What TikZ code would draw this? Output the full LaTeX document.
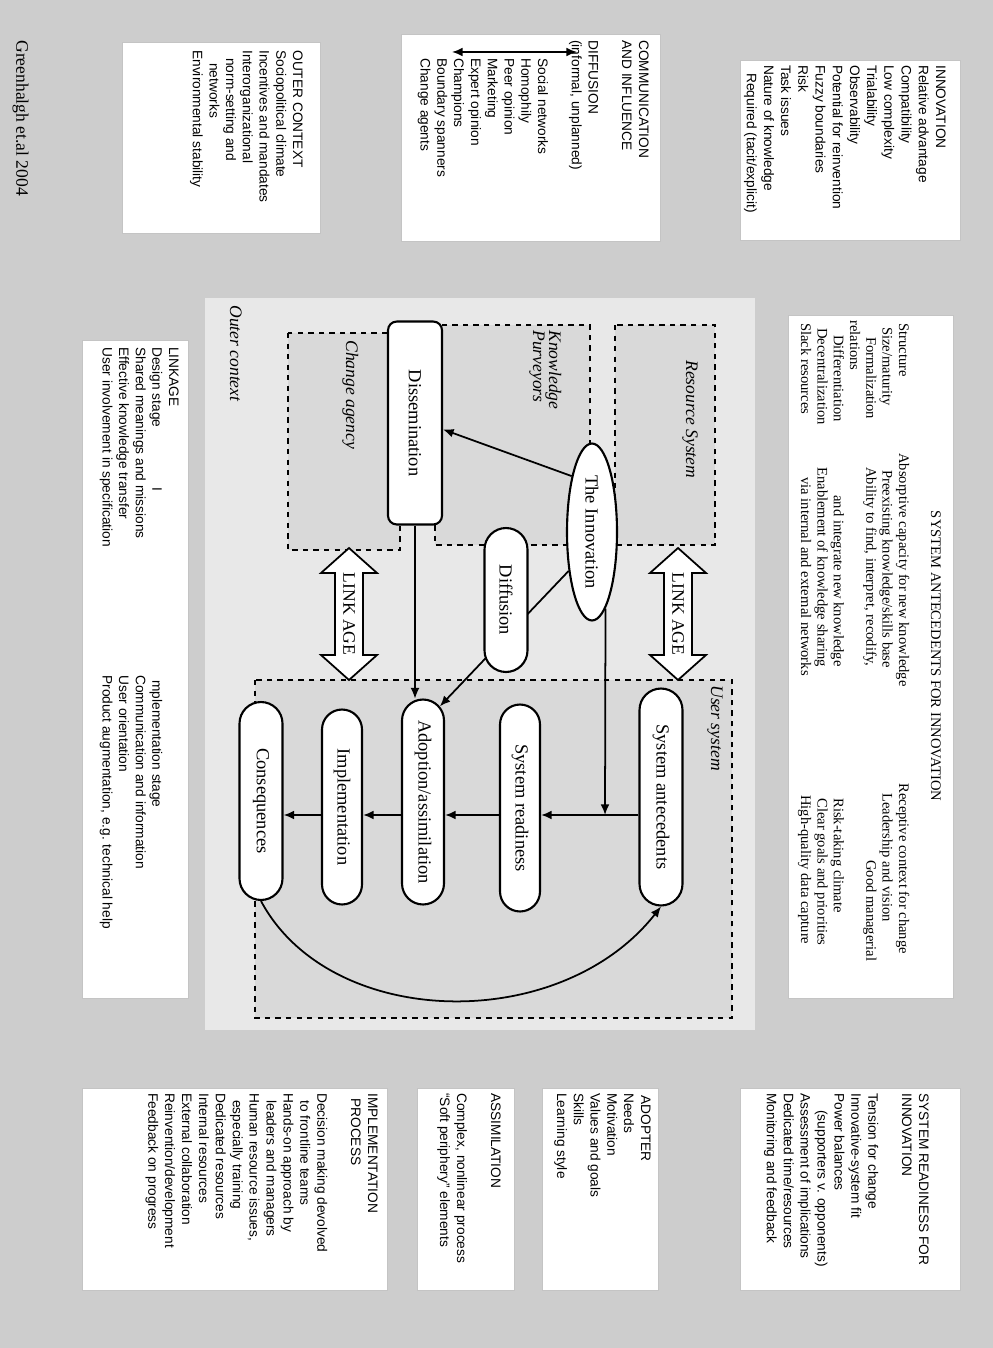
\documentclass[tikz,border=0pt]{standalone}
\usepackage{fontspec}
\setmainfont{Liberation Serif}
\newfontfamily\sansf{Liberation Sans}
\usetikzlibrary{shapes.geometric,shapes.misc,arrows.meta}

\definecolor{pagebg}{HTML}{CDCDCD}
\definecolor{panel}{HTML}{E8E8E8}
\definecolor{zone}{HTML}{D9D9D9}
\definecolor{boxline}{HTML}{C4C4C4}

% one rotated text line per entry: name, first baseline x, step, style, list of y/text
\newcommand\linesat[5]{%
  \foreach \yy/\lt [count=\i] in {#5}{%
    \node[#4] (#1-\i) at ({#2-(\i-1)*#3},\yy) {\lt};
  }}

\begin{document}
\begin{tikzpicture}[x=0.02cm,y=-0.02cm,
  infobox/.style={fill=white,draw=boxline,line width=0.4pt},
  sanstext/.style={font=\sansf\fontsize{7.8}{9.5}\selectfont,rotate=-90,inner sep=0pt,anchor=base west},
  seriftext/.style={font=\fontsize{8.3}{9.5}\selectfont,rotate=-90,inner sep=0pt,anchor=base west},
  zonebox/.style={fill=zone,draw=black,dashed,line width=0.7pt},
  zonelabel/.style={font=\itshape\fontsize{10}{12}\selectfont,rotate=-90,inner sep=0pt,anchor=base west},
  pill/.style={rounded rectangle,draw,fill=white,line width=1.2pt,rotate=-90,
    font=\fontsize{10.5}{12}\selectfont,inner sep=0pt},
  arr/.style={-{Latex[length=6pt,width=5pt]},line width=1pt},
  linkarrow/.style={fill=white,draw=black,line width=1pt,line join=miter},
  linktext/.style={font=\fontsize{10}{12}\selectfont,rotate=-90,inner sep=0pt},
]
% page background
\fill[pagebg] (0,0) rectangle (993,1348);

% ---------- information boxes ----------
\filldraw[infobox] (740,60) rectangle (960,240);
\linesat{innov}{936}{17.2}{sanstext}{65/{INNOVATION},65/{Relative advantage},65/{Compatibility},
  65/{Low complexity},65/{Trialability},65/{Observability},65/{Potential for reinvention},
  65/{Fuzzy boundaries},65/{Risk},65/{Task issues},65/{Nature of knowledge},73/{Required (tacit/explicit)}}

\filldraw[infobox] (401,34) rectangle (660,241);
\linesat{comm}{639}{16.8}{sanstext}{40/{COMMUNICATION},40/{AND INFLUENCE},40/{},40/{DIFFUSION},
  40/{(informal, unplanned)},40/{},58/{Social networks},58/{Homophily},58/{Peer opinion},
  58/{Marketing},58/{Expert opinion},58/{Champions},58/{Boundary spanners},58/{Change agents}}
\coordinate (diffusiontop) at (577,52);
\coordinate (diffusionbot) at (452,52);
\draw[{Latex[length=6pt,width=5pt]}-{Latex[length=6pt,width=5pt]},line width=1pt] (diffusionbot) -- (diffusiontop);

\filldraw[infobox] (122,42) rectangle (320,233);
\linesat{outer}{293}{16.7}{sanstext}{50/{OUTER CONTEXT},50/{Sociopolitical climate},
  50/{Incentives and mandates},50/{Interorganizational},58/{norm-setting and},63/{networks},
  50/{Environmental stability}}

\filldraw[infobox] (788,315) rectangle (953,998);
\node[seriftext,anchor=base] (ante-head) at (931,656) {SYSTEM ANTECEDENTS FOR INNOVATION};
\linesat{antea}{899}{16.3}{seriftext}{323/{Structure},327/{Size/maturity},337/{Formalization},
  320/{relations},335/{Differentiation},328/{Decentralization},323/{Slack resources}}
\linesat{anteb}{899}{16.3}{seriftext}{453/{Absorptive capacity for new knowledge},
  470/{Preexisting knowledge/skills base},467/{Ability to find, interpret, recodify,},0/{},
  495/{and integrate new knowledge},467/{Enablement of knowledge sharing},
  477/{via internal and external networks}}
\linesat{antec}{899}{16.3}{seriftext}{783/{Receptive context for change},793/{Leadership and vision},
  860/{Good managerial},0/{},798/{Risk-taking climate},798/{Clear goals and priorities},
  795/{High-quality data capture}}

\filldraw[infobox] (82,340) rectangle (188,998);
\linesat{linka}{169}{16.6}{sanstext}{347/{LINKAGE},347/{Design stage},347/{Shared meanings and missions},
  347/{Effective knowledge transfer},347/{User involvement in specification}}
\node[sanstext] (link-i) at (152.4,487) {I};
\linesat{linkb}{152.4}{16.6}{sanstext}{680/{mplementation stage},675/{Communication and information},
  675/{User orientation},675/{Product augmentation, e.g. technical help}}

\filldraw[infobox] (740,1088) rectangle (960,1290);
\linesat{ready}{919}{16.9}{sanstext}{1093/{SYSTEM READINESS FOR},1093/{INNOVATION},1093/{},
  1093/{Tension for change},1093/{Innovative-system fit},1093/{Power balances},
  1110/{(supporters v. opponents)},1093/{Assessment of implications},
  1093/{Dedicated time/resources},1093/{Monitoring and feedback}}

\filldraw[infobox] (542,1088) rectangle (658,1290);
\linesat{adopter}{641}{16.8}{sanstext}{1095/{ADOPTER},1093/{Needs},1093/{Motivation},
  1093/{Values and goals},1093/{Skills},1093/{Learning style}}

\filldraw[infobox] (417,1088) rectangle (514,1290);
\linesat{assim}{491}{17}{sanstext}{1093/{ASSIMILATION},1093/{},1093/{Complex, nonlinear process},
  1093/{“Soft periphery” elements}}

\filldraw[infobox] (82,1088) rectangle (387,1290);
\linesat{impl}{368}{16.9}{sanstext}{1093/{IMPLEMENTATION},1098/{PROCESS},1093/{},
  1093/{Decision making devolved},1100/{to frontline teams},1093/{Hands-on approach by},
  1100/{leaders and managers},1093/{Human resource issues,},1100/{especially training},
  1093/{Dedicated resources},1093/{Internal resources},1093/{External collaboration},
  1093/{Reinvention/development},1093/{Feedback on progress}}

\node[font=\fontsize{10}{12}\selectfont,rotate=-90,inner sep=0pt,anchor=base west] (cite) at (16.5,40) {Greenhalgh et.al 2004};

% ---------- central model ----------
\fill[panel] (205,298) rectangle (755,1030);
\node[zonelabel] (outerlbl) at (230,305) {Outer context};

\filldraw[zonebox] (615,325) rectangle (715,545);
\node[zonelabel] (reslbl) at (686,360) {Resource System};
\filldraw[zonebox] (435,325) rectangle (590,545);
\node[zonelabel] (kplbl1) at (549,330) {Knowledge};
\node[zonelabel] (kplbl2) at (533,330) {Purveyors};
\filldraw[zonebox] (288,333) rectangle (400,550);
\node[zonelabel] (calbl) at (346,340) {Change agency};
\filldraw[zonebox] (255,680) rectangle (732,1018);
\node[zonelabel] (uslbl) at (711,685) {User system};

% linkage double arrows
\filldraw[linkarrow] (678,548) -- (706,573) -- (692,573) -- (692,655) -- (706,655) -- (678,680)
  -- (650,655) -- (664,655) -- (664,573) -- (650,573) -- cycle;
\node[linktext] (linkup) at (678,614) {LINK AGE};
\filldraw[linkarrow] (349,548) -- (377,573) -- (363,573) -- (363,655) -- (377,655) -- (349,680)
  -- (321,655) -- (335,655) -- (335,573) -- (321,573) -- cycle;
\node[linktext] (linkdown) at (349,614) {LINK AGE};

% process nodes
\node[ellipse,draw,fill=white,line width=1.2pt,rotate=-90,inner sep=0pt,
  minimum width=3.54cm,minimum height=1.0cm,font=\fontsize{10.5}{12}\selectfont] (inn) at (592,532) {The Innovation};
\node[rectangle,rounded corners=5pt,draw,fill=white,line width=1.2pt,rotate=-90,inner sep=0pt,
  minimum width=4.06cm,minimum height=1.08cm,font=\fontsize{10.5}{12}\selectfont] (diss) at (415,423) {Dissemination};
\node[pill,minimum width=4.34cm,minimum height=0.86cm] (sa) at (661,797) {System antecedents};
\node[pill,minimum width=4.14cm,minimum height=0.80cm] (sr) at (520,808) {System readiness};
\node[pill,minimum width=4.10cm,minimum height=0.84cm] (adopt) at (423,802) {Adoption/assimilation};
\node[pill,minimum width=3.90cm,minimum height=0.80cm] (impl) at (342,807) {Implementation};
\node[pill,minimum width=3.96cm,minimum height=0.86cm] (cons) at (261,801) {Consequences};

% connectors
\coordinate (junc) at (605,815);
\draw[arr] (inn.200) -- (diss.77);
\draw[arr] (inn.329) -- (adopt.170);
\draw[-{Latex[length=6pt,width=5pt]},line width=0.6pt] (diss.east) -- (diss.east |- adopt.west);
\draw[arr] (inn.10) -- (junc);
\draw[arr] (sa.south |- junc) -- (sr.north |- junc);
\draw[arr] (sr.south |- junc) -- (adopt.north |- junc);
\draw[arr] (adopt.south |- junc) -- (impl.north |- junc);
\draw[arr] (impl.south |- junc) -- (cons.north |- junc);
\draw[arr] (cons.east) .. controls (330,1030) and (560,1035) .. (sa.east);

% diffusion sits on top of the innovation-to-adoption path
\node[pill,minimum width=2.88cm,minimum height=0.86cm] (diff) at (506,600) {Diffusion};
\end{tikzpicture}
\end{document}
